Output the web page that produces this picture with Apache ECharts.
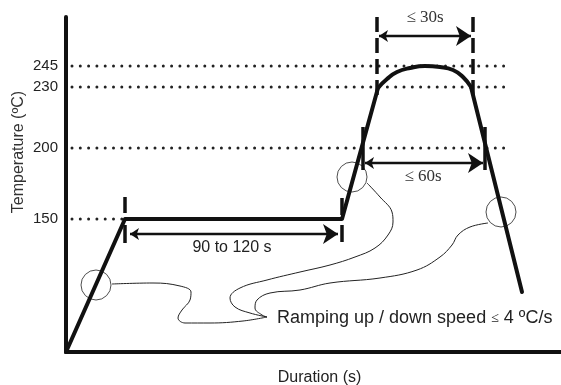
<!DOCTYPE html>
<html>
<head>
<meta charset="utf-8">
<script src="https://cdn.jsdelivr.net/npm/echarts@6/dist/echarts.min.js"></script>
<style>
  html, body { margin: 0; padding: 0; background: #fff; }
  #chart { width: 561px; height: 385px; }
</style>
</head>
<body>
<div id="chart"></div>
<script>
// schematic units: x = offset along duration axis, y = height above the duration axis
const tempLabels = ['150', '200', '230', '245']
const tempLevels = [133, 204, 265, 286]
const guideEnds = [59, 439, 439, 439]

const rampProfile = [[0, 0], [59, 133], [276, 133], [312, 264]]
const peakDome = [[312, 264], [321, 273], [331, 280], [344, 284], [359, 286], [374, 285], [387, 282], [397, 275], [405, 265]]
const coolDown = [[405, 265], [456, 60]]

// short solid markers and the dashed ones above the peak
const solidMarkers = [
  [[59, 155], [59, 139]], [[59, 127], [59, 109]],
  [[276, 154], [276, 137]], [[276, 127], [276, 110]],
  [[297, 225], [297, 182]], [[419, 225], [419, 182]]
]
const dashedMarkers = [[[311, 335], [311, 252]], [[407, 335], [407, 252]]]

// double arrows: 90 to 120 s, <= 30s, <= 60s
const arrows = [
  [[64, 118], [272, 118]],
  [[313, 316], [405, 316]],
  [[299, 189], [417, 189]]
]

const circleCenters = [[30, 67], [286, 175], [435, 140]]

// thin connectors from the circles to the note
const connectorA = [[46, 68], [87, 69], [114, 66], [125, 60], [124, 52], [116, 42], [112, 34], [119, 29], [144, 29], [177, 31], [201, 35]]
const connectorB = [[301, 169], [314, 155], [326, 140], [327, 130], [322, 117], [309, 104], [289, 95], [264, 87], [234, 80], [201, 72], [174, 64], [164, 54], [169, 45], [184, 39], [201, 35]]
const connectorC = [[422, 129], [404, 125], [392, 117], [386, 107], [374, 95], [351, 82], [314, 74], [264, 69], [234, 62], [204, 59], [191, 52], [189, 44], [196, 37], [201, 35]]

const chart = echarts.init(document.getElementById('chart'))

const ink = '#111'
const series = []

tempLevels.forEach((lv, i) => {
  series.push({
    type: 'line',
    data: [[6, lv], [guideEnds[i], lv]],
    symbol: 'none',
    lineStyle: { color: '#222', width: 3, type: [0, 8.3], cap: 'round' },
    silent: true
  })
})

const thinLine = data => ({
  type: 'line',
  data: data,
  symbol: 'none',
  smooth: 0.4,
  lineStyle: { color: '#222', width: 1 },
  silent: true
})
series.push(thinLine(connectorA), thinLine(connectorB), thinLine(connectorC))

series.push({
  type: 'scatter',
  data: circleCenters,
  symbol: 'circle',
  symbolSize: 30,
  itemStyle: { color: 'rgba(0,0,0,0)', borderColor: '#222', borderWidth: 1 },
  silent: true
})

const thickLine = (data, smooth) => ({
  type: 'line',
  data: data,
  symbol: 'none',
  smooth: smooth,
  lineStyle: { color: ink, width: 4, cap: 'round', join: 'round' },
  silent: true
})
series.push(thickLine(rampProfile, false), thickLine(peakDome, 0.5), thickLine(coolDown, false))

solidMarkers.concat(dashedMarkers).forEach((m, i) => {
  series.push({
    type: 'line',
    data: m,
    symbol: 'none',
    lineStyle: { color: ink, width: 3.5, type: i >= solidMarkers.length ? [15, 6] : 'solid' },
    silent: true
  })
})

series.push({
  type: 'lines',
  coordinateSystem: 'cartesian2d',
  data: arrows.map(a => ({ coords: a })),
  symbol: ['arrow', 'arrow'],
  symbolSize: [9, 15],
  lineStyle: { color: ink, width: 2.3, opacity: 1 },
  silent: true
})

const option = {
  animation: false,
  grid: { left: 66, right: 0, top: 17, bottom: 33, outerBoundsMode: 'none' },
  xAxis: {
    type: 'value',
    min: 0,
    max: 495,
    axisLine: { show: true, lineStyle: { color: ink, width: 4 } },
    axisTick: { show: false },
    axisLabel: { show: false },
    splitLine: { show: false },
    name: 'Duration (s)',
    nameLocation: 'middle',
    nameGap: 18,
    nameTextStyle: { fontFamily: 'Liberation Sans, Arial', fontSize: 16, color: '#222', padding: [0, 0, 0, 12] }
  },
  yAxis: {
    type: 'value',
    min: 0,
    max: 335,
    axisLine: { show: true, lineStyle: { color: ink, width: 4 } },
    axisTick: { show: false },
    splitLine: { show: false },
    axisLabel: {
      customValues: tempLevels,
      margin: 8,
      fontFamily: 'Liberation Sans, Arial',
      fontSize: 15,
      color: '#222',
      formatter: v => tempLabels[tempLevels.indexOf(v)]
    }
  },
  graphic: [
    {
      type: 'text',
      x: 19,
      y: 152,
      rotation: Math.PI / 2,
      style: {
        text: 'Temperature (ºC)',
        font: '16px "Liberation Sans", Arial',
        fill: '#333',
        align: 'center',
        verticalAlign: 'middle'
      }
    },
    {
      type: 'text',
      x: 232,
      y: 248,
      style: { text: '90 to 120 s', font: '16px "Liberation Sans", Arial', fill: '#222', align: 'center', verticalAlign: 'middle' }
    },
    {
      type: 'text',
      x: 425,
      y: 18,
      style: { text: '≤ 30s', font: '17px "Liberation Serif", "Times New Roman"', fill: '#333', align: 'center', verticalAlign: 'middle' }
    },
    {
      type: 'text',
      x: 423,
      y: 177,
      style: { text: '≤ 60s', font: '17px "Liberation Serif", "Times New Roman"', fill: '#333', align: 'center', verticalAlign: 'middle' }
    },
    {
      type: 'text',
      x: 277,
      y: 318,
      style: {
        text: 'Ramping up / down speed {le|≤} 4 ºC/s',
        font: '18px "Liberation Sans", Arial',
        fill: '#222',
        align: 'left',
        verticalAlign: 'middle',
        rich: {
          le: { fontFamily: 'Liberation Serif', fontSize: 14, fill: '#222' }
        }
      }
    }
  ],
  series: series
}

chart.setOption(option)
</script>
</body>
</html>
